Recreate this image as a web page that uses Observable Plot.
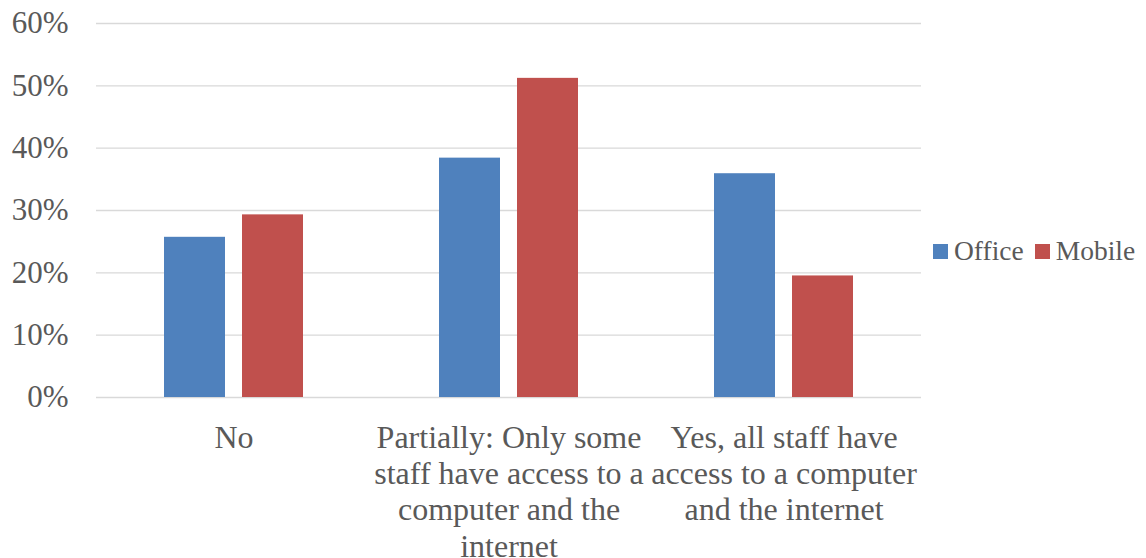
<!DOCTYPE html>
<html>
<head>
<meta charset="utf-8">
<script src="https://cdn.jsdelivr.net/npm/d3@7"></script>
<script src="https://cdn.jsdelivr.net/npm/@observablehq/plot@0.6"></script>
<style>
  html, body { margin: 0; padding: 0; background: #fff; }
  #chart { position: relative; width: 1146px; height: 558px; }
  #chart svg, #chart svg text { font-family: "Liberation Serif", "Times New Roman", serif; }
  .legend {
    position: absolute; left: 933px; top: 235px;
    font-family: "Liberation Serif", "Times New Roman", serif;
    font-size: 27.5px; color: #595959; white-space: nowrap;
    display: flex; align-items: center; line-height: 32px;
  }
  .legend .sw { display: inline-block; width: 15px; height: 15px; margin-right: 6px; }
  .legend .item { display: flex; align-items: center; margin-right: 11px; }
</style>
</head>
<body>
<div id="chart"></div>
<script>
// Survey answers (x categories) and their wrapped tick labels
const categories = ["No", "Partially", "Yes"];
const categoryLabels = [
  "No",
  "Partially: Only some\nstaff have access to a\ncomputer and the\ninternet",
  "Yes, all staff have\naccess to a computer\nand the internet"
];

// Series
const seriesNames = ["Office", "Mobile"];
const seriesColors = ["#4F81BD", "#C0504D"];
const officeValues = [0.257, 0.384, 0.359];
const mobileValues = [0.293, 0.512, 0.195];

// Y axis ticks
const yTicks = [0, 0.1, 0.2, 0.3, 0.4, 0.5, 0.6];

const seriesValues = { Office: officeValues, Mobile: mobileValues };
const rows = categories.flatMap((c, i) =>
  seriesNames.map(s => ({ category: c, series: s, value: seriesValues[s][i] }))
);

const serif = "Liberation Serif";

const chart = Plot.plot({
  width: 1146,
  height: 558,
  marginLeft: 95,
  marginRight: 224,
  marginTop: 23,
  marginBottom: 161,
  style: {
    fontFamily: serif,
    fontSize: "31px",
    color: "#595959",
    background: "#fff"
  },
  fx: { domain: categories, padding: 0 },
  x: { domain: seriesNames, paddingInner: 0.212, paddingOuter: 0.864, axis: null },
  y: { domain: [0, 0.6] },
  color: { domain: seriesNames, range: seriesColors },
  marks: [
    Plot.gridY(yTicks, { stroke: "#d9d9d9", strokeOpacity: 1, strokeWidth: 1.3 }),
    Plot.axisY(yTicks, {
      tickSize: 0, tickPadding: 28, label: null, fontSize: 31, fontFamily: serif,
      tickFormat: d3.format(".0%")
    }),
    Plot.axisFx({
      anchor: "bottom",
      tickSize: 0, tickPadding: 25, label: null, lineHeight: 1.13,
      fontSize: 32, fontFamily: serif,
      tickFormat: d => categoryLabels[categories.indexOf(d)]
    }),
    Plot.barY(rows, { fx: "category", x: "series", y: "value", fill: "series" })
  ]
});

const host = document.getElementById("chart");
host.appendChild(chart);

// Legend to the right of the plot
const legend = document.createElement("div");
legend.className = "legend";
seriesNames.forEach((name, i) => {
  const item = document.createElement("span");
  item.className = "item";
  const sw = document.createElement("span");
  sw.className = "sw";
  sw.style.background = seriesColors[i];
  item.appendChild(sw);
  item.appendChild(document.createTextNode(name));
  legend.appendChild(item);
});
host.appendChild(legend);
</script>
</body>
</html>
